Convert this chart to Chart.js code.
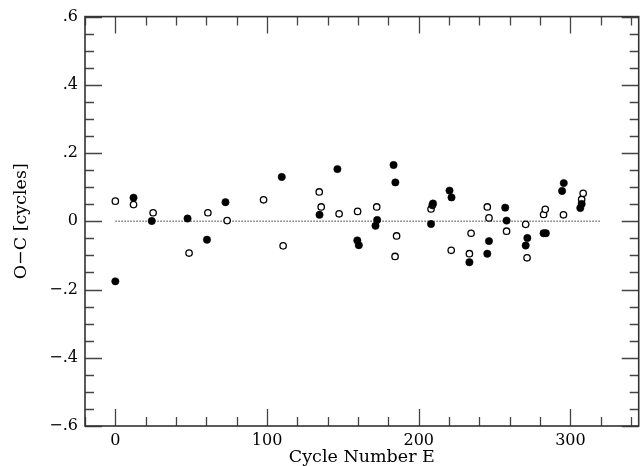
<!DOCTYPE html>
<html>
<head>
<meta charset="utf-8">
<script src="https://cdn.jsdelivr.net/npm/chart.js@4"></script>
<style>
html,body{margin:0;padding:0;background:#fff;}
#wrap{width:644px;height:466px;position:relative;}
</style>
</head>
<body>
<div id="wrap"><canvas id="c" width="644" height="466"></canvas></div>
<script>
// Filled circles
const filledE  = [0, 12, 24, 47.6, 60.4, 72.6, 109.7, 134.6, 146.4, 159.5, 160.5, 171.5, 172.6, 183.4, 184.6, 208.1, 209, 209.4, 220.3, 221.6, 233.4, 245.2, 246.3, 257, 257.9, 270.5, 271.6, 282.3, 283.8, 294.5, 295.6, 306.5, 307.4];
const filledOC = [-0.176, 0.069, 0.001, 0.008, -0.054, 0.056, 0.130, 0.019, 0.153, -0.056, -0.070, -0.013, 0.004, 0.165, 0.114, -0.008, 0.047, 0.052, 0.090, 0.070, -0.120, -0.095, -0.058, 0.040, 0.002, -0.071, -0.049, -0.035, -0.035, 0.089, 0.112, 0.039, 0.051];
// Open circles
const openE  = [0, 12, 24.9, 48.6, 61, 73.7, 97.7, 110.6, 134.4, 135.7, 147.5, 159.7, 172.3, 184.4, 185.4, 208.1, 221.4, 233.4, 234.5, 245.2, 246.3, 257.9, 270.5, 271.4, 282.3, 283.4, 295.4, 307.4, 308.4];
const openOC = [0.059, 0.049, 0.025, -0.093, 0.025, 0.002, 0.063, -0.072, 0.086, 0.042, 0.022, 0.029, 0.042, -0.103, -0.043, 0.036, -0.085, -0.095, -0.035, 0.042, 0.010, -0.029, -0.009, -0.107, 0.020, 0.035, 0.019, 0.064, 0.082];
// Zero reference line
const zeroLineE = [0, 320];
const zeroLineOC = [0, 0];
// Axis ticks
const xMajorTicks = [0, 100, 200, 300];
const xMinorStep = 20;
const yMajorTicks = [-0.6, -0.4, -0.2, 0, 0.2, 0.4, 0.6];
const yMinorStep = 0.05;
const xRange = [-20, 345];
const yRange = [-0.6, 0.6];

const toPts = (xs, ys) => xs.map((x, i) => ({x: x, y: ys[i]}));
const fmtY = v => {
  if (Math.abs(v) < 1e-9) return '0';
  const s = Math.abs(v).toFixed(1).replace(/^0/, '');
  return (v < 0 ? '\u2212' : '') + s;
};

const FONT = '"DejaVu Serif", serif';

const framePlugin = {
  id: 'frame',
  afterDatasetsDraw(chart) {
    const ctx = chart.ctx;
    const xs = chart.scales.x, ys = chart.scales.y;
    const a = chart.chartArea;
    ctx.save();
    ctx.strokeStyle = '#444';
    ctx.lineWidth = 1.3;
    const MAJ = 17, MIN = 9;
    for (let v = xRange[0]; v <= xRange[1] + 1e-9; v += xMinorStep) {
      const isMaj = xMajorTicks.some(t => Math.abs(t - v) < 1e-6);
      const L = isMaj ? MAJ : MIN;
      const px = Math.round(xs.getPixelForValue(v)) + 0.5;
      ctx.beginPath();
      ctx.moveTo(px, a.bottom); ctx.lineTo(px, a.bottom - L);
      ctx.moveTo(px, a.top); ctx.lineTo(px, a.top + L);
      ctx.stroke();
    }
    for (let k = 0; ; k++) {
      const v = yRange[0] + k * yMinorStep;
      if (v > yRange[1] + 1e-9) break;
      const isMaj = yMajorTicks.some(t => Math.abs(t - v) < 1e-6);
      const L = isMaj ? MAJ : MIN;
      const py = Math.round(ys.getPixelForValue(v)) + 0.5;
      ctx.beginPath();
      ctx.moveTo(a.left, py); ctx.lineTo(a.left + L, py);
      ctx.moveTo(a.right, py); ctx.lineTo(a.right - L, py);
      ctx.stroke();
    }
    ctx.strokeStyle = '#333';
    ctx.lineWidth = 1.6;
    ctx.strokeRect(a.left, a.top, a.right - a.left, a.bottom - a.top);
    ctx.restore();
  }
};

new Chart(document.getElementById('c'), {
  type: 'scatter',
  data: {
    datasets: [
      {
        type: 'line',
        data: toPts(zeroLineE, zeroLineOC),
        borderColor: '#777',
        borderWidth: 1.5,
        borderDash: [1.5, 1.5],
        pointRadius: 0,
        fill: false,
        order: 3
      },
      {
        data: toPts(openE, openOC),
        pointStyle: 'circle',
        pointRadius: 3.2,
        pointBorderWidth: 1.3,
        pointBackgroundColor: '#fff',
        pointBorderColor: '#000',
        order: 2
      },
      {
        data: toPts(filledE, filledOC),
        pointStyle: 'circle',
        pointRadius: 3.7,
        pointBorderWidth: 0.5,
        pointBackgroundColor: '#000',
        pointBorderColor: '#000',
        order: 1
      }
    ]
  },
  options: {
    responsive: false,
    animation: false,
    devicePixelRatio: 1,
    layout: { padding: { top: 16, right: 2, bottom: 0, left: 0 } },
    plugins: { legend: { display: false }, tooltip: { enabled: false } },
    scales: {
      x: {
        type: 'linear',
        min: xRange[0], max: xRange[1],
        grid: { display: false, drawTicks: false },
        border: { display: false },
        afterBuildTicks: s => { s.ticks = xMajorTicks.map(v => ({value: v})); },
        afterFit: s => { s.height = 40; },
        ticks: {
          padding: 5,
          color: '#000',
          font: { family: FONT, size: 16 },
          maxRotation: 0,
          callback: v => String(v)
        },
        title: {
          display: true,
          text: 'Cycle Number E',
          color: '#000',
          font: { family: FONT, size: 17.5, lineHeight: 1 },
          padding: { top: 0, bottom: 0 }
        }
      },
      y: {
        type: 'linear',
        min: yRange[0], max: yRange[1],
        grid: { display: false, drawTicks: false },
        border: { display: false },
        afterBuildTicks: s => { s.ticks = yMajorTicks.map(v => ({value: v})); },
        afterFit: s => { s.width = 85; },
        ticks: {
          padding: 7,
          color: '#000',
          font: { family: FONT, size: 16 },
          callback: v => fmtY(v)
        },
        title: {
          display: true,
          text: 'O\u2212C [cycles]',
          color: '#000',
          font: { family: FONT, size: 17.5, lineHeight: 1 },
          padding: { top: 13, bottom: 0 }
        }
      }
    }
  },
  plugins: [framePlugin]
});
</script>
</body>
</html>
